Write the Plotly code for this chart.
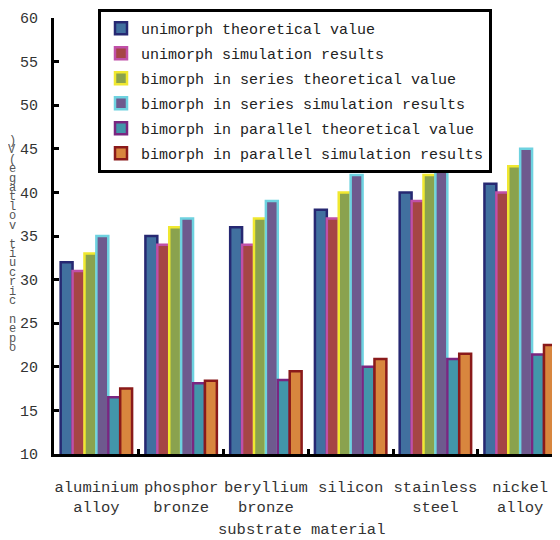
import plotly.graph_objects as go

categories = ["aluminium<br>alloy", "phosphor<br>bronze", "beryllium<br>bronze",
              "silicon", "stainless<br>steel", "nickel<br>alloy"]
series_names = ["unimorph theoretical value", "unimorph simulation results",
                "bimorph in series theoretical value", "bimorph in series simulation results",
                "bimorph in parallel theoretical value", "bimorph in parallel simulation results"]
uni_theory = [32, 35, 36, 38, 40, 41]
uni_sim = [31, 34, 34, 37, 39, 40]
ser_theory = [33, 36, 37, 40, 42, 43]
ser_sim = [35, 37, 39, 42, 43.1, 45]
par_theory = [16.5, 18.1, 18.5, 20, 20.9, 21.4]
par_sim = [17.5, 18.4, 19.5, 20.9, 21.5, 22.5]
y_ticks = [10, 15, 20, 25, 30, 35, 40, 45, 50, 55, 60]
y_title = "open circuit voltage(V)"
x_title = "substrate material"

fills = ["#41709F", "#A54545", "#8AA24E", "#6E5A8E", "#4296AA", "#D8863E"]
outlines = ["#262872", "#C050A8", "#F0E830", "#6ED2E0", "#7A2680", "#8A1A1A"]
values = [uni_theory, uni_sim, ser_theory, ser_sim, par_theory, par_sim]

FONT = "Liberation Mono"
W, H = 552, 532          # page body has an 8px margin
L, T, B = 46, 10, 86
PW, PH = W - L, H - T - B

fig = go.Figure()
for name, vals, fc, lc in zip(series_names, values, fills, outlines):
    fig.add_trace(go.Bar(x=categories, y=vals, name=name, base=0,
                         marker=dict(color=fc, line=dict(color=lc, width=2.5)),
                         legendgroup=name))

fig.update_layout(
    width=W, height=H,
    margin=dict(l=L, r=0, t=T, b=B, autoexpand=False),
    plot_bgcolor="white", paper_bgcolor="white",
    barmode="group", bargap=0.157, bargroupgap=0,
    font=dict(family=FONT, size=15, color="#333333"),
    showlegend=True,
    legend=dict(x=90 / W, y=1 - 1 / H, xref="container", yref="container",
                xanchor="left", yanchor="top",
                bgcolor="white", bordercolor="black", borderwidth=3,
                font=dict(family=FONT, size=15, color="#222222"),
                tracegroupgap=2.5),
    xaxis=dict(type="category", range=[-0.5, 5.47], showline=True, linecolor="black",
               linewidth=3, ticks="inside", tickson="boundaries", ticklen=5,
               tickwidth=3, tickcolor="black", showgrid=False, tickangle=0,
               ticklabelstandoff=16, tickfont=dict(family=FONT, size=15.5, color="#333333")),
    yaxis=dict(range=[10, 60], tickvals=y_ticks, showline=True, linecolor="black",
               linewidth=3, ticks="inside", ticklen=5, tickwidth=3, tickcolor="black",
               showgrid=False, zeroline=False, ticklabelstandoff=10,
               tickfont=dict(family=FONT, size=15, color="#333333")),
)

# vertical stacked y-axis title (upright characters, reading bottom to top)
chars = list(y_title)
top_px, bottom_px = 133, 340   # figure pixels
step = (bottom_px - top_px) / (len(chars) - 1)
for i, ch in enumerate(chars):
    if ch == " ":
        continue
    py = bottom_px - i * step
    yv = 10 + (T + PH - py) / (PH / 50)
    fig.add_annotation(x=-0.083, xref="paper", y=yv, yref="y", text=ch, showarrow=False,
                       font=dict(family=FONT, size=12, color="#555555"),
                       xanchor="center", yanchor="middle")

fig.add_annotation(x=(293 - L) / PW, xref="paper", y=-(522 - (T + PH)) / PH, yref="paper",
                   text=x_title, showarrow=False, xanchor="center", yanchor="middle",
                   font=dict(family=FONT, size=15.5, color="#333333"))

fig.write_html("out.html")
